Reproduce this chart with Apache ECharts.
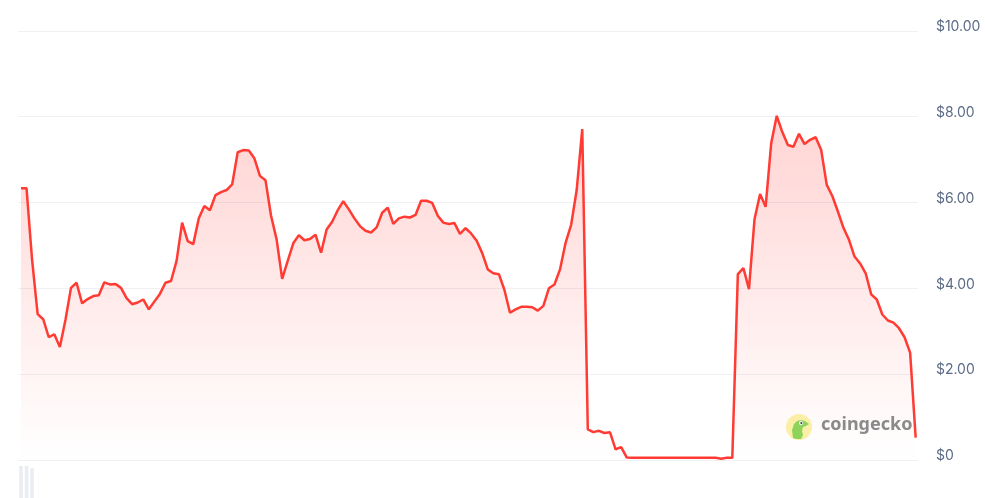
<!DOCTYPE html>
<html>
<head>
<meta charset="utf-8">
<script src="https://cdn.jsdelivr.net/npm/echarts@6/dist/echarts.min.js"></script>
<style>
html,body{margin:0;padding:0;background:#fff;}
#chart{width:985px;height:498px;}
</style>
</head>
<body>
<div id="chart"></div>
<script>
const priceValues = [
  6.33, 6.33, 4.66, 3.40, 3.28, 2.86, 2.93, 2.63, 3.26, 4.01,
  4.13, 3.65, 3.75, 3.82, 3.84, 4.14, 4.09, 4.10, 4.01, 3.77,
  3.63, 3.67, 3.74, 3.51, 3.69, 3.87, 4.13, 4.17, 4.64, 5.53,
  5.10, 5.03, 5.63, 5.92, 5.82, 6.17, 6.24, 6.29, 6.42, 7.17,
  7.22, 7.21, 7.03, 6.62, 6.52, 5.69, 5.14, 4.22, 4.64, 5.05,
  5.24, 5.12, 5.15, 5.25, 4.83, 5.37, 5.55, 5.82, 6.03, 5.84,
  5.63, 5.45, 5.34, 5.30, 5.42, 5.76, 5.88, 5.50, 5.63, 5.67,
  5.65, 5.71, 6.04, 6.04, 5.99, 5.69, 5.53, 5.50, 5.52, 5.27,
  5.40, 5.28, 5.11, 4.82, 4.44, 4.35, 4.33, 3.96, 3.43, 3.51,
  3.57, 3.57, 3.56, 3.48, 3.59, 4.00, 4.09, 4.44, 5.06, 5.48,
  6.29, 7.71, 0.715, 0.65, 0.68, 0.63, 0.645, 0.25, 0.30, 0.06,
  0.05, 0.05, 0.05, 0.05, 0.05, 0.05, 0.05, 0.05, 0.05, 0.05,
  0.05, 0.05, 0.05, 0.05, 0.05, 0.05, 0.03, 0.05, 0.05, 4.33,
  4.47, 3.98, 5.61, 6.20, 5.90, 7.38, 8.02, 7.64, 7.34, 7.30,
  7.60, 7.36, 7.46, 7.52, 7.22, 6.41, 6.15, 5.79, 5.41, 5.13,
  4.74, 4.58, 4.35, 3.86, 3.74, 3.39, 3.25, 3.20, 3.07, 2.86,
  2.50, 0.52
];
const volumeValues = [1.0, 1.0, 0.93];
const yTicks = [0, 2, 4, 6, 8, 10];

const priceData = priceValues.map((v, i) => [i, v]);
const volumeData = volumeValues.map((v, i) => [i, v]);

const chart = echarts.init(document.getElementById('chart'), null, {renderer: 'canvas'});
chart.setOption({
  animation: false,
  backgroundColor: '#ffffff',
  grid: [
    {left: 18.2, right: 67.1, top: 30.8, bottom: 38, containLabel: false},
    {left: 18.2, right: 67.1, top: 466, bottom: -60, containLabel: false}
  ],
  xAxis: [
    {type: 'value', gridIndex: 0, min: -0.5, max: 161.4, show: false},
    {type: 'value', gridIndex: 1, min: -0.5, max: 161.4, show: false}
  ],
  yAxis: [
    {
      type: 'value', gridIndex: 0, position: 'right',
      min: yTicks[0], max: yTicks[yTicks.length - 1], interval: 2,
      axisLine: {show: false}, axisTick: {show: false},
      splitLine: {show: true, lineStyle: {color: '#eef0f4', width: 1}},
      axisLabel: {
        margin: 18, align: 'left', verticalAlign: 'bottom', lineHeight: 8,
        color: '#5b6b86', fontSize: 14, fontFamily: 'Inter, "Noto Sans", sans-serif',
        formatter: v => v === 0 ? '$0' : '$' + v.toFixed(2)
      }
    },
    {
      type: 'value', gridIndex: 1, min: 0, max: 1.0, show: false
    }
  ],
  series: [
    {
      type: 'line', xAxisIndex: 0, yAxisIndex: 0,
      data: priceData, showSymbol: false, symbol: 'none',
      lineStyle: {color: '#ff3b33', width: 2.5},
      areaStyle: {
        color: {
          type: 'linear', x: 0, y: 0, x2: 0, y2: 1,
          colorStops: [
            {offset: 0, color: 'rgba(255,64,60,0.32)'},
            {offset: 1, color: 'rgba(255,64,60,0.0)'}
          ]
        }
      },
      z: 3
    },
    {
      type: 'bar', xAxisIndex: 1, yAxisIndex: 1,
      data: volumeData, barWidth: 3.5,
      itemStyle: {color: '#e9edf2'}
    }
  ],
  graphic: [
    {type: 'circle', x: 799, y: 427, shape: {cx: 0, cy: 0, r: 13}, style: {fill: '#fbeea6'}, z: 10},
    {type: 'polygon', x: 786, y: 414, shape: {points: [[7,24],[6,16],[8,10],[11,7],[15,6],[19,7],[23,10],[20,12],[17,13],[16,17],[17,21],[15,25],[10,25]]}, style: {fill: '#8ed45a'}, z: 11},
    {type: 'circle', x: 801, y: 423, shape: {cx: 0, cy: 0, r: 2}, style: {fill: '#ffffff'}, z: 12},
    {type: 'circle', x: 801.3, y: 423, shape: {cx: 0, cy: 0, r: 1}, style: {fill: '#333333'}, z: 13},
    {
      type: 'text', x: 821, y: 416, z: 10,
      style: {text: 'coingecko', fill: '#8a8a8a', fontSize: 18, fontWeight: 'bold', fontFamily: '"Noto Sans", Inter, sans-serif'}
    }
  ]
});
</script>
</body>
</html>
